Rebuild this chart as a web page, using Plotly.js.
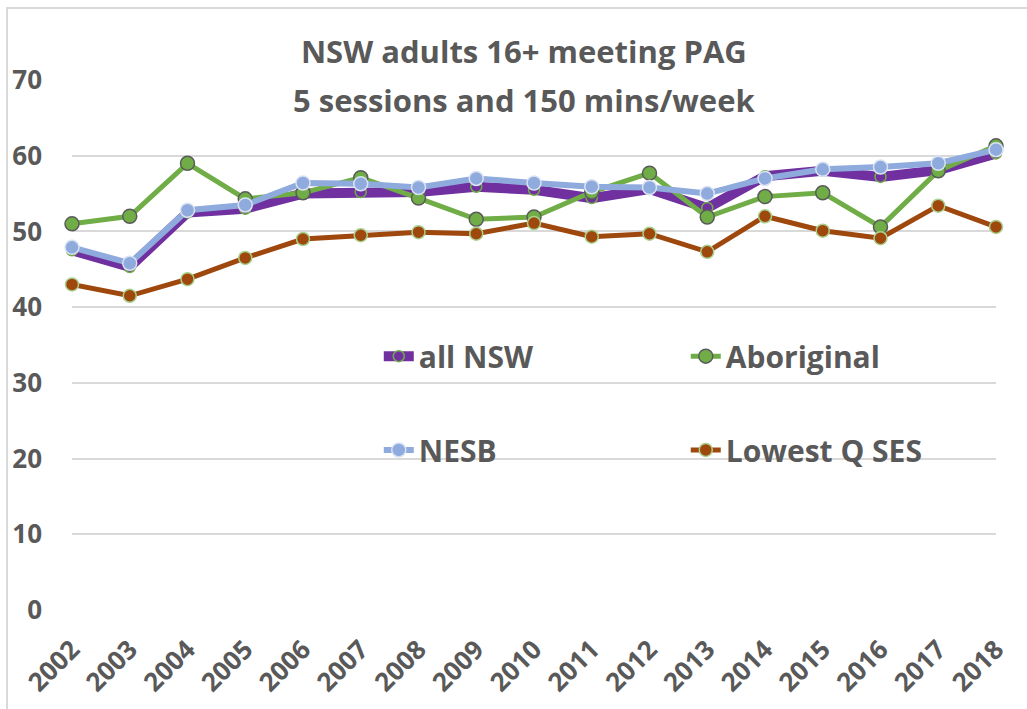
<!DOCTYPE html>
<html>
<head>
<meta charset="utf-8">
<script src="https://cdn.plot.ly/plotly-3.0.1.min.js"></script>
<style>html,body{margin:0;padding:0;background:#fff;}#chart{width:1027px;height:709px;}</style>
</head>
<body>
<div id="chart"></div>
<script>
const years = ["2002","2003","2004","2005","2006","2007","2008","2009","2010","2011","2012","2013","2014","2015","2016","2017","2018"];
const allNSW     = [47.5, 45.3, 52.5, 53.0, 55.0, 55.2, 55.2, 55.9, 55.5, 54.4, 55.6, 53.1, 57.3, 58.0, 57.2, 58.1, 60.3];
const aboriginal = [51.0, 52.0, 59.0, 54.3, 55.1, 57.1, 54.4, 51.6, 51.9, 55.2, 57.7, 51.9, 54.6, 55.1, 50.6, 58.0, 61.3];
const nesb       = [47.9, 45.8, 52.8, 53.5, 56.4, 56.3, 55.8, 57.0, 56.4, 55.9, 55.8, 55.0, 57.0, 58.2, 58.5, 59.0, 60.8];
const lowestQSES = [43.0, 41.5, 43.7, 46.5, 49.0, 49.5, 49.9, 49.7, 51.1, 49.3, 49.7, 47.3, 52.0, 50.1, 49.1, 53.4, 50.6];
const yTicks = [0, 10, 20, 30, 40, 50, 60, 70];

const FONT = '"Open Sans", "DejaVu Sans", sans-serif';
const GRAY = '#595959';

const traces = [
  {name: 'all NSW', x: years, y: allNSW, type: 'scatter', mode: 'lines+markers', cliponaxis: false,
   line: {color: '#7030A0', width: 10},
   marker: {color: '#7030A0', size: 11, line: {color: '#70AD47', width: 1.5}}, legend: 'legend'},
  {name: 'Aboriginal', x: years, y: aboriginal, type: 'scatter', mode: 'lines+markers', cliponaxis: false,
   line: {color: '#70AD47', width: 5},
   marker: {color: '#70AD47', size: 14, line: {color: '#5A5A5A', width: 1.5}}, legend: 'legend'},
  {name: 'NESB', x: years, y: nesb, type: 'scatter', mode: 'lines+markers', cliponaxis: false,
   line: {color: '#8FAADC', width: 6},
   marker: {color: '#8FAADC', size: 14, line: {color: '#DAE3F3', width: 1.5}}, legend: 'legend2'},
  {name: 'Lowest Q SES', x: years, y: lowestQSES, type: 'scatter', mode: 'lines+markers', cliponaxis: false,
   line: {color: '#9E480E', width: 5},
   marker: {color: '#9E480E', size: 13, line: {color: '#A9D18E', width: 1.5}}, legend: 'legend2'}
];

const legendCommon = {
  orientation: 'h', xanchor: 'left', yanchor: 'middle',
  entrywidth: 262, entrywidthmode: 'pixels',
  bgcolor: 'rgba(0,0,0,0)', borderwidth: 0,
  font: {family: FONT, size: 30, color: GRAY, weight: 'bold'},
  itemclick: false, itemdoubleclick: false
};

const layout = {
  width: 1027, height: 709,
  margin: {l: 72, r: 31, t: 80, b: 99, autoexpand: false},
  paper_bgcolor: '#ffffff', plot_bgcolor: '#ffffff',
  showlegend: true,
  title: {text: 'NSW adults 16+ meeting PAG', x: 0.489, xanchor: 'center', xref: 'paper',
          y: 1 - 52 / 709, yanchor: 'middle', yref: 'container',
          font: {family: FONT, size: 31, color: GRAY, weight: 'bold'}},
  xaxis: {type: 'category', range: [0, 16], showgrid: false, zeroline: false, showline: false,
          ticks: '', tickangle: -45, automargin: false, ticklabelstandoff: 18,
          tickfont: {family: FONT, size: 26, color: GRAY, weight: 'bold'}},
  yaxis: {range: [0, 70], tickvals: yTicks, showgrid: true, gridcolor: '#D9D9D9', gridwidth: 2,
          zeroline: false, showline: false, ticks: '', ticklabelstandoff: 29, automargin: false,
          tickfont: {family: FONT, size: 26, color: GRAY, weight: 'bold'}},
  legend: Object.assign({}, legendCommon, {x: 0.332, y: 0.479}),
  legend2: Object.assign({}, legendCommon, {x: 0.332, y: 0.302}),
  annotations: [
    {text: '5 sessions and 150 mins/week', xref: 'paper', yref: 'paper', x: 0.489, y: (610 - 100) / 530,
     xanchor: 'center', yanchor: 'middle', showarrow: false,
     font: {family: FONT, size: 31, color: GRAY, weight: 'bold'}}
  ],
  shapes: [
    {type: 'rect', xref: 'paper', yref: 'paper', x0: (7 - 72) / 924, x1: 1.2, y0: -0.4, y1: (610 - 8) / 530,
     line: {color: '#D9D9D9', width: 2}, fillcolor: 'rgba(0,0,0,0)', layer: 'below'}
  ]
};

Plotly.newPlot('chart', traces, layout, {displayModeBar: false, staticPlot: true});
</script>
</body>
</html>
